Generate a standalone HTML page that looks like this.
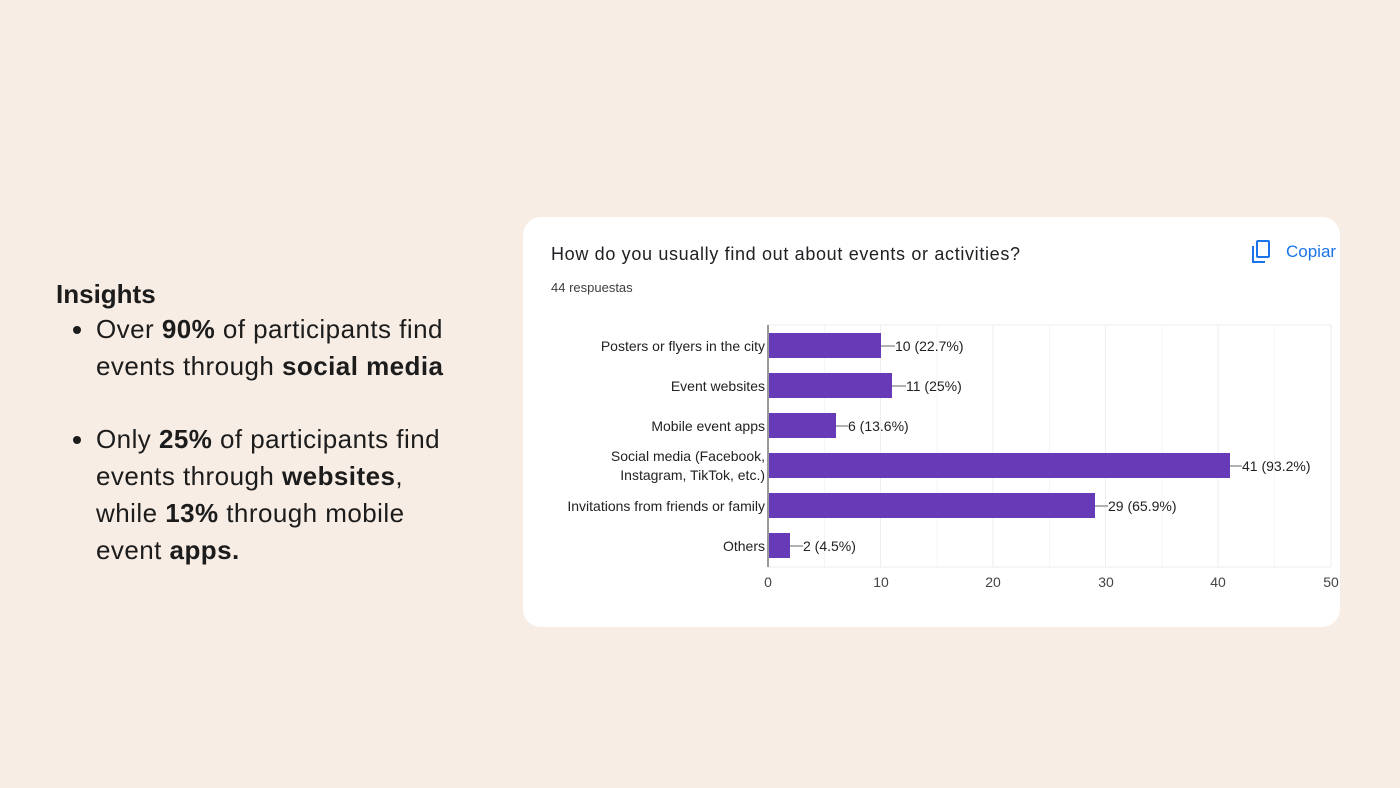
<!DOCTYPE html>
<html><head><meta charset="utf-8"><style>
body{margin:0;width:1400px;height:788px;background:#f7ede5;font-family:"Liberation Sans",sans-serif;position:relative;overflow:hidden}
.ins{position:absolute;left:56px;top:277px;font-size:26px;color:#1c1c1c;line-height:37px;letter-spacing:0.45px}
.ins h3{margin:0;font-size:26px;font-weight:bold;line-height:34px;letter-spacing:0}
.ins ul{margin:0;padding-left:40px}
.ins li{margin:0}
.card{position:absolute;left:523px;top:217px;width:817px;height:410px;background:#fff;border-radius:18px}
</style></head><body>
<div class="ins"><h3>Insights</h3>
<ul><li style="margin-top:0">Over <b>90%</b> of participants find<br>events through <b>social media</b></li>
<li style="margin-top:36px">Only <b>25%</b> of participants find<br>events through <b>websites</b>,<br>while <b>13%</b> through mobile<br>event <b>apps.</b></li></ul></div>
<div class="card"></div>
<svg width="1400" height="788" style="position:absolute;left:0;top:0" font-family="Liberation Sans, sans-serif">
<text x="551" y="260" font-size="18" fill="#202124" textLength="469" lengthAdjust="spacing">How do you usually find out about events or activities?</text>
<text x="551" y="292" font-size="13" fill="#3c4043">44 respuestas</text>
<g fill="none" stroke="#1a73e8" stroke-width="2"><rect x="1257" y="241" width="12" height="16" rx="1"/><path d="M1253 246v16h12"/></g>
<text x="1286" y="257" font-size="17" fill="#1a73e8">Copiar</text>
<g stroke="#eeeeee" stroke-width="1">
<line x1="768" y1="325" x2="1331" y2="325"/>
<line x1="824.5" y1="325" x2="824.5" y2="567" stroke="#f5f5f5"/><line x1="937" y1="325" x2="937" y2="567" stroke="#f5f5f5"/><line x1="1049.5" y1="325" x2="1049.5" y2="567" stroke="#f5f5f5"/><line x1="1162" y1="325" x2="1162" y2="567" stroke="#f5f5f5"/><line x1="1274.5" y1="325" x2="1274.5" y2="567" stroke="#f5f5f5"/>
<line x1="880.5" y1="325" x2="880.5" y2="567"/><line x1="993" y1="325" x2="993" y2="567"/><line x1="1105.5" y1="325" x2="1105.5" y2="567"/><line x1="1218" y1="325" x2="1218" y2="567"/><line x1="1331" y1="325" x2="1331" y2="567"/>
<line x1="768" y1="567" x2="1331" y2="567"/>
</g>
<line x1="768" y1="325" x2="768" y2="567" stroke="#333" stroke-width="1"/>
<g fill="#673ab7">
<rect x="769" y="333" width="112" height="25"/>
<rect x="769" y="373" width="123" height="25"/>
<rect x="769" y="413" width="67" height="25"/>
<rect x="769" y="453" width="461" height="25"/>
<rect x="769" y="493" width="326" height="25"/>
<rect x="769" y="533" width="21" height="25"/>
</g>
<g stroke="#666" stroke-width="1">
<line x1="881" y1="346" x2="895" y2="346"/><line x1="892" y1="386" x2="906" y2="386"/><line x1="836" y1="426" x2="848" y2="426"/><line x1="1230" y1="466" x2="1242" y2="466"/><line x1="1095" y1="506" x2="1108" y2="506"/><line x1="790" y1="546" x2="803" y2="546"/>
</g>
<g font-size="14" fill="#222">
<text x="895" y="351">10 (22.7%)</text><text x="906" y="391">11 (25%)</text><text x="848" y="431">6 (13.6%)</text><text x="1242" y="471">41 (93.2%)</text><text x="1108" y="511">29 (65.9%)</text><text x="803" y="551">2 (4.5%)</text>
</g>
<g font-size="14" fill="#222" text-anchor="end">
<text x="765" y="351">Posters or flyers in the city</text><text x="765" y="391">Event websites</text><text x="765" y="431">Mobile event apps</text>
<text x="765" y="461">Social media (Facebook,</text><text x="765" y="480">Instagram, TikTok, etc.)</text>
<text x="765" y="511">Invitations from friends or family</text><text x="765" y="551">Others</text>
</g>
<g font-size="14" fill="#444" text-anchor="middle">
<text x="768" y="587">0</text><text x="881" y="587">10</text><text x="993" y="587">20</text><text x="1106" y="587">30</text><text x="1218" y="587">40</text><text x="1331" y="587">50</text>
</g>
</svg>
</body></html>
